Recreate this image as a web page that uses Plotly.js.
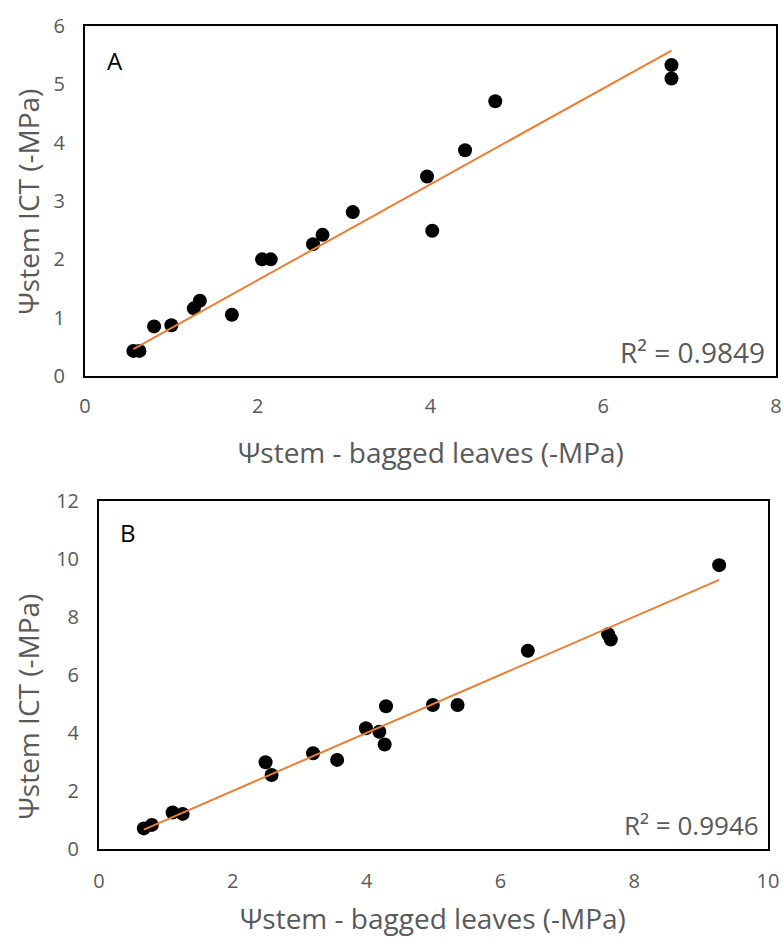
<!DOCTYPE html>
<html>
<head>
<meta charset="utf-8">
<script src="https://cdn.plot.ly/plotly-3.0.1.min.js"></script>
<style>html,body{margin:0;padding:0;background:#fff;}#chart{width:784px;height:938px;}</style>
</head>
<body>
<div id="chart"></div>
<script>
// Panel A data
const xA = [0.56, 0.63, 0.80, 1.00, 1.26, 1.33, 1.70, 2.05, 2.15, 2.64, 2.75, 3.10, 3.96, 4.02, 4.40, 4.75, 6.79, 6.79];
const yA = [0.43, 0.43, 0.85, 0.87, 1.16, 1.29, 1.05, 2.00, 2.00, 2.26, 2.42, 2.81, 3.42, 2.49, 3.87, 4.71, 5.33, 5.10];
// Panel B data
const xB = [0.67, 0.79, 1.10, 1.25, 2.49, 2.58, 3.20, 3.56, 3.99, 4.19, 4.27, 4.29, 4.99, 5.36, 6.41, 7.61, 7.65, 9.27];
const yB = [0.71, 0.83, 1.26, 1.21, 2.99, 2.55, 3.30, 3.07, 4.16, 4.04, 3.60, 4.92, 4.96, 4.96, 6.83, 7.40, 7.22, 9.78];
const r2A = "R² = 0.9849";
const r2B = "R² = 0.9946";
const xTitle = "Ψstem - bagged leaves (-MPa)";
const yTitle = "Ψstem ICT (-MPa)";

// linear trendline with intercept set to 0 (as in the original spreadsheet chart)
function fit0(x, y) {
  let sxy = 0, sxx = 0;
  for (let i = 0; i < x.length; i++) { sxy += x[i] * y[i]; sxx += x[i] * x[i]; }
  const m = sxy / sxx;
  const x0 = Math.min(...x), x1 = Math.max(...x);
  return { x: [x0, x1], y: [m * x0, m * x1] };
}
const tA = fit0(xA, yA), tB = fit0(xB, yB);

const FONT = "Open Sans, sans-serif";
const GREY = "#595959";
const ORANGE = "#ED7D31";
const W = 784, H = 938;
const px = v => v / W, py = v => 1 - v / H;

const traces = [
  { x: xA, y: yA, type: "scatter", mode: "markers", marker: { color: "#000", size: 14 }, xaxis: "x", yaxis: "y" },
  { x: tA.x, y: tA.y, type: "scatter", mode: "lines", line: { color: ORANGE, width: 2 }, xaxis: "x", yaxis: "y" },
  { x: xB, y: yB, type: "scatter", mode: "markers", marker: { color: "#000", size: 14 }, xaxis: "x2", yaxis: "y2" },
  { x: tB.x, y: tB.y, type: "scatter", mode: "lines", line: { color: ORANGE, width: 2 }, xaxis: "x2", yaxis: "y2" }
];

const axBase = {
  showgrid: false, zeroline: false, showline: true, linecolor: "#000", linewidth: 2, mirror: true,
  ticks: "", tickfont: { family: FONT, size: 20, color: GREY }
};
const titleFont = { family: FONT, size: 28, color: GREY };
const ann = (text, x, y, extra) => Object.assign({ text, xref: "paper", yref: "paper", x: px(x), y: py(y), xanchor: "center", yanchor: "middle", showarrow: false, borderpad: 0, font: titleFont }, extra || {});

const layout = {
  width: W, height: H,
  margin: { l: 0, r: 0, t: 0, b: 0 },
  paper_bgcolor: "#fff", plot_bgcolor: "#fff",
  showlegend: false,
  font: { family: FONT, color: GREY },
  xaxis: Object.assign({}, axBase, { domain: [px(85), px(776)], range: [0, 8], dtick: 2, anchor: "y", ticklabelstandoff: 11 }),
  yaxis: Object.assign({}, axBase, { domain: [py(376), py(26)], range: [0, 6], dtick: 1, anchor: "x", ticklabelstandoff: 14 }),
  xaxis2: Object.assign({}, axBase, { domain: [px(99), px(768)], range: [0, 10], dtick: 2, anchor: "y2", ticklabelstandoff: 13 }),
  yaxis2: Object.assign({}, axBase, { domain: [py(849), py(500.7)], range: [0, 12], dtick: 2, anchor: "x2", ticklabelstandoff: 14 }),
  annotations: [
    ann("A", 115, 60, { font: { family: FONT, size: 24, color: "#000" } }),
    ann("B", 128, 532, { font: { family: FONT, size: 24, color: "#000" } }),
    ann(r2A, 766, 352, { xanchor: "right" }),
    ann(r2B, 760, 825, { xanchor: "right", font: { family: FONT, size: 26, color: GREY } }),
    ann(xTitle, 430.5, 452),
    ann(xTitle, 433.5, 918),
    ann(yTitle, 27.5, 202, { textangle: -90 }),
    ann(yTitle, 27.5, 707, { textangle: -90 })
  ]
};

Plotly.newPlot("chart", traces, layout, { displayModeBar: false, staticPlot: true });
</script>
</body>
</html>
